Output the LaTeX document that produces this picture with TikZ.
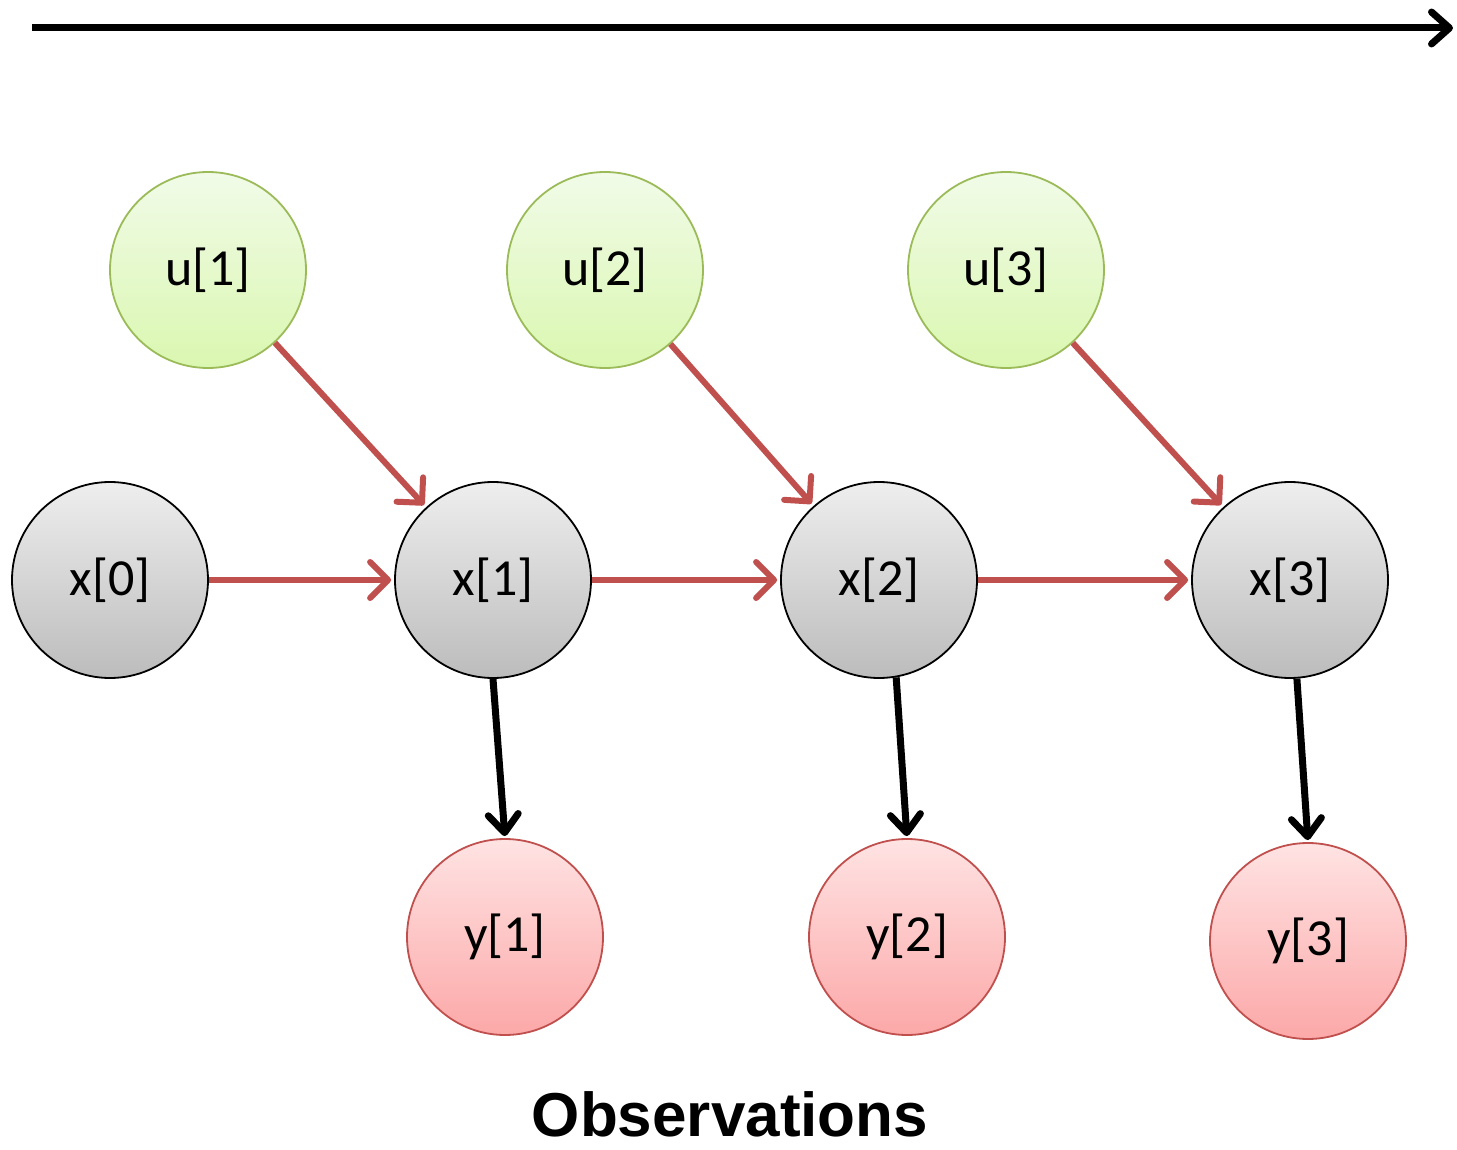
\documentclass[tikz,border=0pt]{standalone}
\usepackage{fontspec}
\setmainfont{Carlito}
\newfontfamily\obsfont{Liberation Sans}
\usetikzlibrary{arrows.meta}
\definecolor{redarr}{HTML}{C0504D}
\definecolor{gtop}{HTML}{F1FBE8}
\definecolor{gbot}{HTML}{DAF7B0}
\definecolor{gbord}{HTML}{9BBB59}
\definecolor{xtop}{HTML}{EEEEEE}
\definecolor{xbot}{HTML}{BCBCBC}
\definecolor{ptop}{HTML}{FFE3E3}
\definecolor{pbot}{HTML}{FCA8A8}
\tikzset{
  base/.style={circle, minimum size=98pt, inner sep=0pt, line width=0.9pt, font=\fontsize{26}{28}\selectfont},
  unode/.style={base, draw=gbord, top color=gtop, bottom color=gbot},
  xnode/.style={base, draw=black, top color=xtop, bottom color=xbot},
  ynode/.style={base, draw=redarr, top color=ptop, bottom color=pbot},
  redarrow/.style={draw=redarr, line width=3pt, -{Straight Barb[length=9pt,width=18pt,line width=3pt,round]}, shorten >=1.5pt},
  blkarrow/.style={draw=black, line width=3.5pt, -{Straight Barb[length=9pt,width=15pt,line width=3.5pt,round]}, shorten >=1pt},
}
\begin{document}
\begin{tikzpicture}[x=0.5pt,y=-0.5pt]
\useasboundingbox (0,0) rectangle (1457,1150);
\coordinate (tstart) at (32,28);
\coordinate (tend) at (1453,28);
\draw[line width=3.5pt, -{Straight Barb[length=9pt,width=16pt,line width=3.5pt,round]}] (tstart) -- (tend);

\node[unode] (u1) at (208,270) {u[1]};
\node[unode] (u2) at (605,270) {u[2]};
\node[unode] (u3) at (1006,270) {u[3]};

\node[xnode] (x0) at (110,580) {x[0]};
\node[xnode] (x1) at (493,580) {x[1]};
\node[xnode] (x2) at (879,580) {x[2]};
\node[xnode] (x3) at (1290,580) {x[3]};

\node[ynode] (y1) at (505,937) {y[1]};
\node[ynode] (y2) at (907,937) {y[2]};
\node[ynode] (y3) at (1308,941) {y[3]};

\draw[redarrow] (u1) -- (x1);
\draw[redarrow] (u2) -- (x2);
\draw[redarrow] (u3) -- (x3);
\draw[redarrow] (x0) -- (x1);
\draw[redarrow] (x1) -- (x2);
\draw[redarrow] (x2) -- (x3);

\draw[blkarrow] (x1.-90) -- (y1.north);
\draw[blkarrow] (x2.-80) -- (y2.north);
\draw[blkarrow] (x3.-86) -- (y3.north);

\node[inner sep=0pt, font=\obsfont\bfseries\fontsize{31}{33}\selectfont] (obs) at (730,1114) {Observations};
\end{tikzpicture}
\end{document}
